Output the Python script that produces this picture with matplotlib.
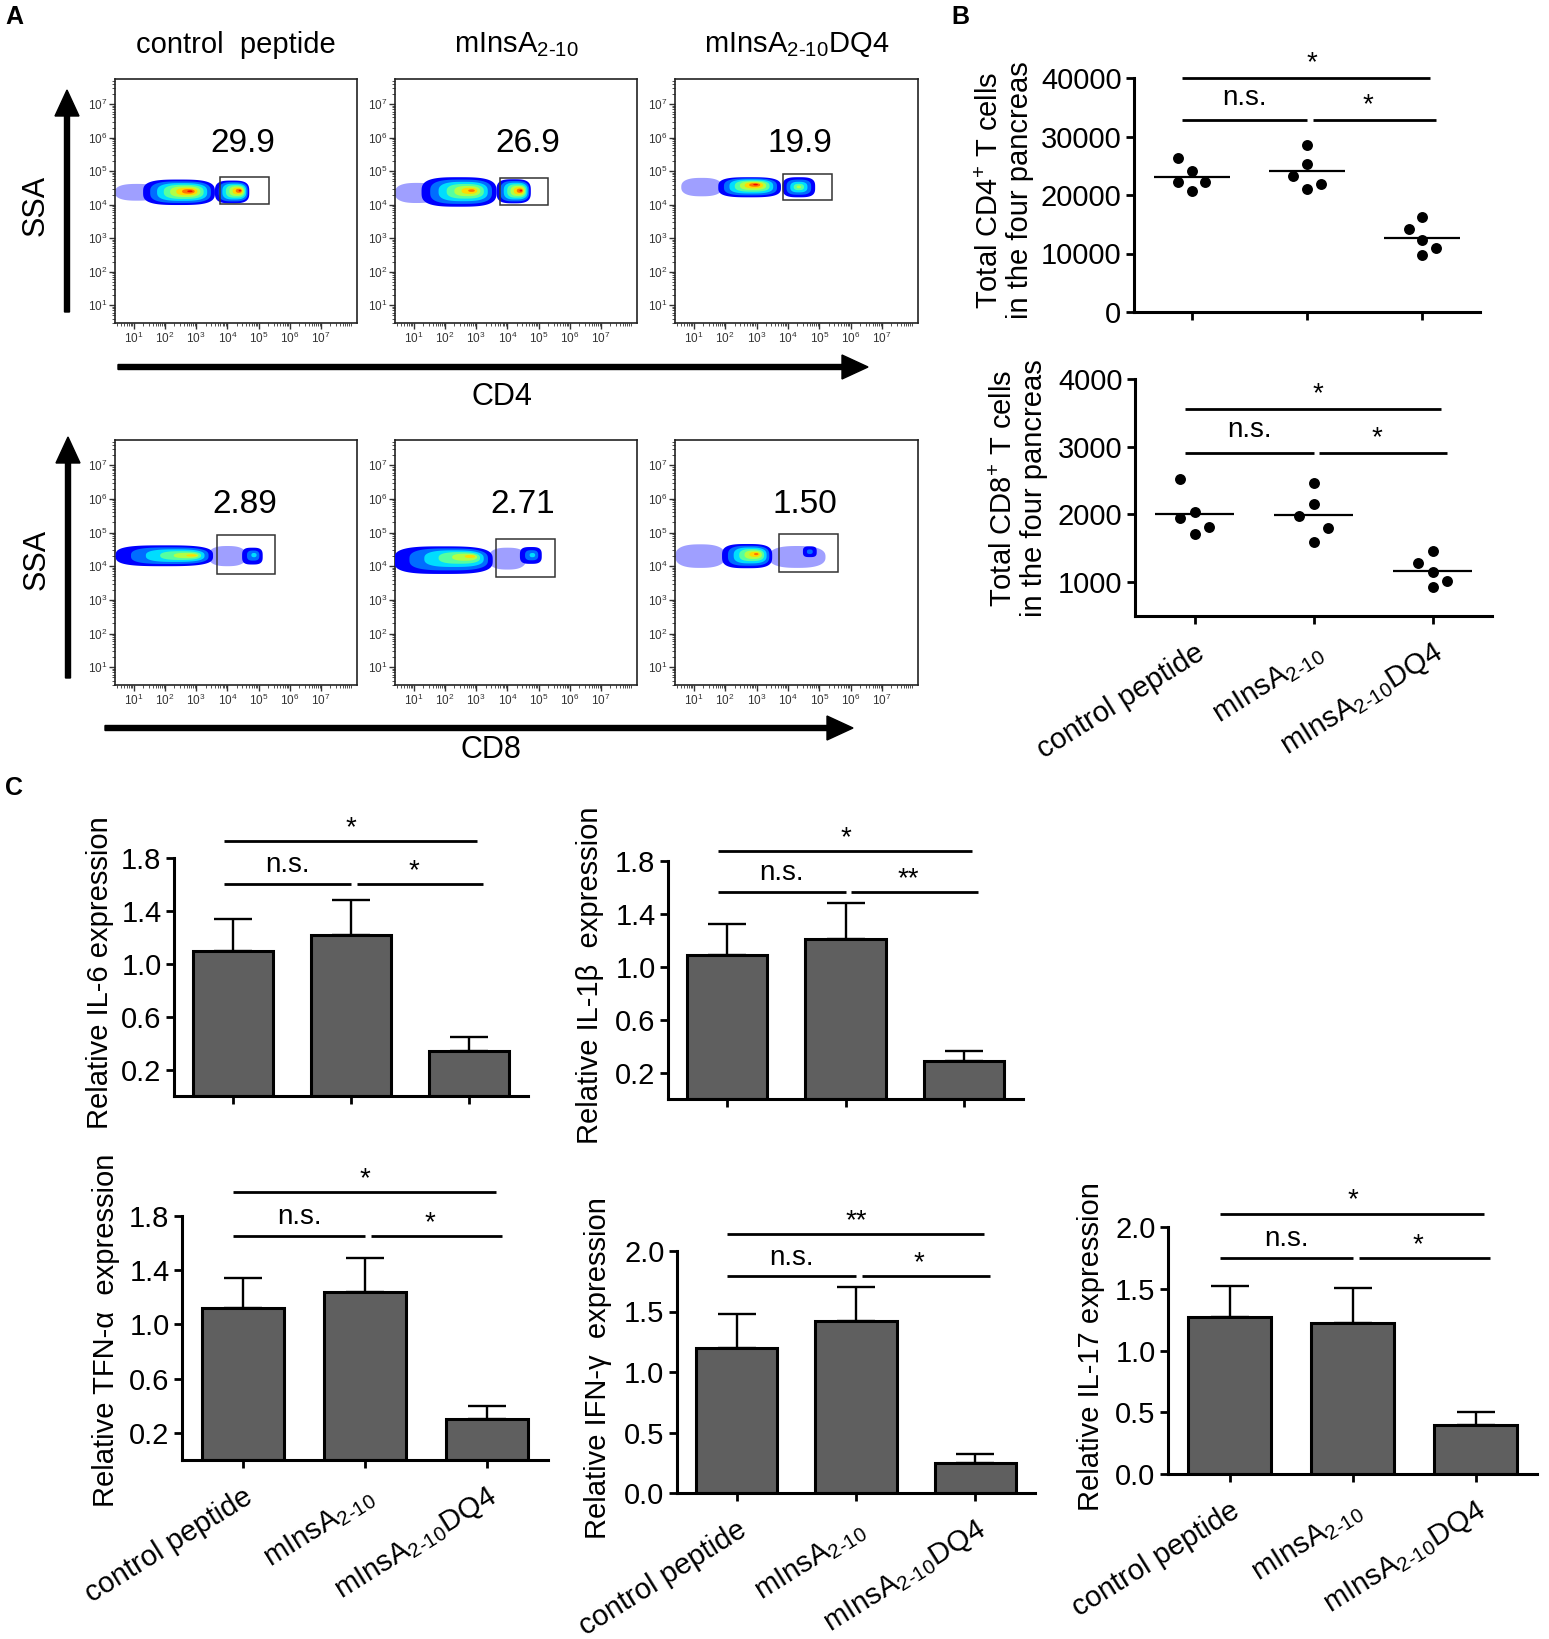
import numpy as np
import matplotlib
matplotlib.use('Agg')
import matplotlib.pyplot as plt
import matplotlib.transforms as mtransforms
from matplotlib.patches import Polygon, Rectangle, FancyArrow

plt.rcParams['font.family'] = ['Liberation Sans', 'DejaVu Sans']
plt.rcParams['mathtext.fontset'] = 'custom'
plt.rcParams['mathtext.rm'] = 'Liberation Sans'
plt.rcParams['mathtext.it'] = 'Liberation Sans:italic'
plt.rcParams['mathtext.bf'] = 'Liberation Sans:bold'

# ---------------- data ----------------
groups = ['control peptide', 'mInsA$_{\\text{2-10}}$', 'mInsA$_{\\text{2-10}}$DQ4']
flow_titles = ['control  peptide', 'mInsA$_{\\text{2-10}}$', 'mInsA$_{\\text{2-10}}$DQ4']

# panel A, flow plots (log10 units)
cd4_pct = ['29.9', '26.9', '19.9']
cd8_pct = ['2.89', '2.71', '1.50']
cd4_gates = [(3.75, 5.33, 4.03, 4.83), (3.77, 5.30, 4.00, 4.80), (3.83, 5.40, 4.14, 4.93)]
cd8_gates = [(3.67, 5.53, 3.78, 4.92), (3.64, 5.53, 3.68, 4.81), (3.72, 5.60, 3.83, 4.95)]
# population: centre x, centre y, half width, half height, peak x, peak y, density level
cd4_pops = [
    [(2.45, 4.37, 1.15, 0.38, 2.80, 4.40, 7), (4.15, 4.38, 0.55, 0.34, 4.40, 4.42, 7)],
    [(2.45, 4.38, 1.20, 0.44, 2.85, 4.42, 6), (4.20, 4.40, 0.55, 0.36, 4.43, 4.42, 7)],
    [(2.78, 4.52, 1.00, 0.30, 2.97, 4.60, 7), (4.35, 4.52, 0.52, 0.30, 4.35, 4.53, 4)],
]
cd4_tails = [[(0.4, 1.8, 4.12, 4.62)], [(0.4, 1.8, 4.05, 4.65)], [(0.6, 1.9, 4.25, 4.80)]]
cd8_pops = [
    [(1.98, 4.31, 1.56, 0.31, 2.85, 4.32, 5), (4.80, 4.30, 0.33, 0.25, 4.85, 4.33, 2)],
    [(1.95, 4.18, 1.58, 0.41, 2.80, 4.29, 5), (4.75, 4.32, 0.35, 0.25, 4.80, 4.33, 2)],
    [(2.70, 4.30, 0.80, 0.36, 2.99, 4.36, 6), (4.70, 4.43, 0.22, 0.16, 4.70, 4.43, 1)],
]
cd8_tails = [[(3.4, 4.6, 4.00, 4.60)], [(3.4, 4.6, 3.90, 4.55)],
             [(0.41, 2.0, 3.95, 4.65), (3.4, 5.2, 3.95, 4.60)]]

# panel B, cell counts
cd4_counts = [[26400, 24100, 22300, 22300, 20700],
              [28500, 25300, 23300, 21900, 21100],
              [16200, 14200, 12300, 11000, 9700]]
cd8_counts = [[2520, 2040, 1950, 1820, 1710],
              [2460, 2150, 1970, 1800, 1600],
              [1460, 1290, 1150, 1020, 930]]
cd4_sig = ['*', '*']
cd8_sig = ['*', '*']

# panel C, relative expression (mean, SEM)
il6 = [1.10, 1.22, 0.34]
il6_err = [0.24, 0.26, 0.11]
il1b = [1.09, 1.21, 0.29]
il1b_err = [0.23, 0.27, 0.07]
tfna = [1.12, 1.24, 0.30]
tfna_err = [0.22, 0.25, 0.10]
ifng = [1.20, 1.42, 0.25]
ifng_err = [0.28, 0.28, 0.07]
il17 = [1.27, 1.22, 0.40]
il17_err = [0.25, 0.29, 0.10]

# ---------------- figure ----------------
W, H = 1549, 1639
fig = plt.figure(figsize=(W / 100, H / 100), dpi=100)


def px_axes(l, t, r, b):
    return fig.add_axes([l / W, 1 - b / H, (r - l) / W, (b - t) / H])


def ftext(x, y, s, **kw):
    fig.text(x / W, 1 - y / H, s, **kw)


jet = plt.cm.jet


def blob(ax, cx, cy, wx, wy, n, color, alpha=1.0, z=2):
    t = np.linspace(0, 2 * np.pi, 240)
    c, s = np.cos(t), np.sin(t)
    xs = cx + wx * np.sign(c) * np.abs(c) ** (2 / n)
    ys = cy + wy * np.sign(s) * np.abs(s) ** (2 / n)
    ax.add_patch(Polygon(np.column_stack([xs, ys]), closed=True, facecolor=color,
                         edgecolor='none', alpha=alpha, zorder=z))


def draw_pop(ax, pop):
    cx, cy, wx, wy, kx, ky, peak = pop
    for i in range(peak + 1):
        f = i / (peak + 1)
        sc = (1 - f) ** 1.25
        w = i / peak if peak else 0
        blob(ax, cx + (kx - cx) * w, cy + (ky - cy) * w, wx * sc, wy * sc,
             3.2 - 1.2 * f, jet(0.12 + i * 0.78 / 7), z=3 + i)


def flow_panel(ax, pops, tails, gate, pct, num_x):
    ax.set_xlim(0.4, 8.15)
    ax.set_ylim(0.47, 7.75)
    for (x0, x1, y0, y1) in tails:
        blob(ax, (x0 + x1) / 2, (y0 + y1) / 2, (x1 - x0) / 2, (y1 - y0) / 2, 2.6,
             '#2a2aff', alpha=0.45, z=2)
    for p in pops:
        draw_pop(ax, p)
    x0, x1, y0, y1 = gate
    ax.add_patch(Rectangle((x0, y0), x1 - x0, y1 - y0, fill=False, edgecolor='#333333',
                           lw=1.1, zorder=20))
    ax.text(num_x, 5.82, pct, fontsize=24, ha='center', va='center')
    major = np.arange(1, 8)
    minor = [k + np.log10(m) for k in range(0, 9) for m in range(2, 10)]
    for axis, lim in ((ax.xaxis, (0.4, 8.15)), (ax.yaxis, (0.47, 7.75))):
        axis.set_ticks(major)
        axis.set_ticks([v for v in minor if lim[0] < v < lim[1]], minor=True)
        axis.set_ticklabels([f'$10^{{{k}}}$' for k in major])
    ax.tick_params(which='major', direction='out', length=4, width=1, labelsize=8.5,
                   colors='#333333', pad=1.5)
    ax.tick_params(which='minor', direction='out', length=2.2, width=0.6, colors='#333333')
    for s in ax.spines.values():
        s.set_linewidth(1.2)
        s.set_color('#222222')


flow_rows = [
    ((79, 323), cd4_pops, cd4_tails, cd4_gates, cd4_pct, [4.49, 4.65, 4.39]),
    ((440, 685), cd8_pops, cd8_tails, cd8_gates, cd8_pct, [4.57, 4.50, 4.55]),
]
flow_cols = [(115, 357), (395, 637), (675, 918)]
for r, ((t, b), pops, tails, gates, pcts, nx) in enumerate(flow_rows):
    for c, (l, rr) in enumerate(flow_cols):
        ax = px_axes(l, t, rr, b)
        flow_panel(ax, pops[c], tails[c], gates[c], pcts[c], nx[c])
        if r == 0:
            ax.text(0.5, 1.14, flow_titles[c], transform=ax.transAxes, fontsize=21,
                    ha='center', va='center')


def style_axes(ax):
    for s in ['top', 'right']:
        ax.spines[s].set_visible(False)
    for s in ['left', 'bottom']:
        ax.spines[s].set_linewidth(2.2)
    ax.tick_params(direction='out', length=6, width=2, labelsize=21, pad=3)
    ax.set_xlim(-0.5, 2.5)
    ax.set_xticks(range(3))


def sig(ax, marks, top, low, ns_pad=8.5, star_pad=4.3, top_x=1.0):
    tr = mtransforms.blended_transform_factory(ax.transData, ax.transAxes)
    kw = dict(transform=tr, color='k', lw=2, clip_on=False, solid_capstyle='butt')
    ax.plot([-0.08, 2.07], [top, top], **kw)
    ax.plot([-0.08, 1.0], [low, low], **kw)
    ax.plot([1.05, 2.12], [low, low], **kw)
    tk = dict(xycoords=tr, textcoords='offset points', ha='center', va='baseline',
              fontsize=20, annotation_clip=False)
    ax.annotate(marks[0], xy=(top_x, top), xytext=(0, star_pad), **tk)
    ax.annotate('n.s.', xy=(0.46, low), xytext=(0, ns_pad), **tk)
    ax.annotate(marks[1], xy=(1.53, low), xytext=(0, star_pad), **tk)


def label_ticks(ax):
    ax.set_xticklabels(groups, rotation=32, ha='right', va='top', rotation_mode='anchor')
    ax.tick_params(axis='x', pad=10)


# ---- panel B ----
jit = [[-1, 0, -1, 1, 0], [0, 0, -1, 1, 0], [0, -1, 0, 1, 0]]
b_panels = [
    ((1134, 78, 1480, 312), cd4_counts, (0, 40000), range(0, 40001, 10000), cd4_sig,
     (1.0, 0.82), 'Total CD4$^{+}$ T cells\nin the four pancreas', (1005, 190), False),
    ((1135, 379, 1492, 616), cd8_counts, (500, 4000), range(1000, 4001, 1000), cd8_sig,
     (0.874, 0.689), 'Total CD8$^{+}$ T cells\nin the four pancreas', (1019, 488), True),
]
for box, counts, ylim, yt, marks, (top, low), ylab, (lx, ly), show in b_panels:
    ax = px_axes(*box)
    style_axes(ax)
    for g, vals in enumerate(counts):
        xs = [g + 0.118 * j for j in jit[g]]
        ax.scatter(xs, vals, s=62, color='k', zorder=3, linewidths=0)
        ax.hlines(np.mean(vals), g - 0.33, g + 0.33, color='k', lw=1.6, zorder=2)
    ax.set_ylim(*ylim)
    ax.set_yticks(list(yt))
    sig(ax, marks, top, low, ns_pad=11, star_pad=5.5, top_x=1.04)
    if show:
        label_ticks(ax)
    else:
        ax.set_xticklabels([])
    ftext(lx, ly, ylab, rotation=90, fontsize=21, ha='center', va='center',
          linespacing=1.05)

# ---- panel C ----
c_panels = [
    ((174, 858, 528, 1096), il6, il6_err, 1.8, ['*', '*'], (1.07, 0.89),
     'Relative IL-6 expression', (100, 973), False),
    ((668, 861, 1023, 1099), il1b, il1b_err, 1.8, ['*', '**'], (1.042, 0.87),
     'Relative IL-1β  expression', (590, 975), False),
    ((182, 1216, 548, 1460), tfna, tfna_err, 1.8, ['*', '*'], (1.098, 0.918),
     'Relative TFN-α  expression', (106, 1330), True),
    ((677, 1251, 1035, 1493), ifng, ifng_err, 2.0, ['**', '*'], (1.07, 0.895),
     'Relative IFN-γ  expression', (598, 1368), True),
    ((1168, 1227, 1537, 1474), il17, il17_err, 2.0, ['*', '*'], (1.054, 0.875),
     'Relative IL-17 expression', (1091, 1347), True),
]
for box, vals, errs, ymax, marks, (top, low), ylab, (lx, ly), show in c_panels:
    ax = px_axes(*box)
    style_axes(ax)
    x = np.arange(3)
    ax.bar(x, vals, width=0.68, color='#5f5f5f', edgecolor='k', linewidth=2.2, zorder=2)
    ax.errorbar(x, vals, yerr=[np.zeros(3), errs], fmt='none', ecolor='k',
                elinewidth=1.7, capsize=13.5, capthick=1.7, zorder=1)
    ax.set_ylim(0, ymax)
    if ymax < 2:
        ax.set_yticks([0.2, 0.6, 1.0, 1.4, 1.8])
        ax.set_yticklabels(['0.2', '0.6', '1.0', '1.4', '1.8'])
    else:
        ax.set_yticks([0, 0.5, 1.0, 1.5, 2.0])
        ax.set_yticklabels(['0.0', '0.5', '1.0', '1.5', '2.0'])
    sig(ax, marks, top, low)
    if show:
        label_ticks(ax)
    else:
        ax.set_xticklabels([])
    ftext(lx, ly, ylab, rotation=90, fontsize=21, ha='center', va='center')

# ---- overlay: arrows, axis names, panel letters ----
ov = fig.add_axes([0, 0, 1, 1])
ov.set_xlim(0, W)
ov.set_ylim(H, 0)
ov.axis('off')
arr = dict(width=5, head_width=24, head_length=26, length_includes_head=True,
           color='k', zorder=30)
ov.add_patch(FancyArrow(67, 312, 0, 90 - 312, **arr))
ov.add_patch(FancyArrow(68, 678, 0, 437 - 678, **arr))
ov.add_patch(FancyArrow(118, 367, 868 - 118, 0, **arr))
ov.add_patch(FancyArrow(105, 728, 853 - 105, 0, **arr))
ov.text(36, 205, 'SSA', rotation=90, fontsize=22, ha='center', va='center')
ov.text(37, 559, 'SSA', rotation=90, fontsize=22, ha='center', va='center')
ov.text(502, 397, 'CD4', fontsize=22, ha='center', va='center')
ov.text(491, 750, 'CD8', fontsize=22, ha='center', va='center')
for letter, (lx, ly) in zip('ABC', [(5, 5), (951, 5), (5, 776)]):
    ov.text(lx, ly, letter, fontsize=18, fontweight='bold', ha='left', va='top')

fig.savefig('out.png', dpi=100, facecolor='white')
